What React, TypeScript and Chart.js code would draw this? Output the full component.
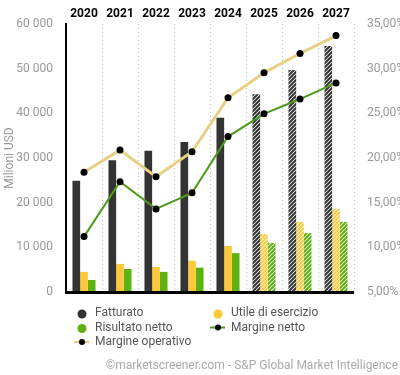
import React, { useEffect, useRef } from "react";
import { Chart, registerables } from "chart.js";

Chart.register(...registerables);

const years = ["2020", "2021", "2022", "2023", "2024", "2025", "2026", "2027"];
const estimateYears = ["2025", "2026", "2027"];
const fatturato = [24900, 29500, 31600, 33600, 39000, 44300, 49700, 55100];
const utile = [4500, 6300, 5600, 7000, 10300, 13000, 15700, 18600];
const risultato = [2700, 5150, 4500, 5450, 8700, 11000, 13200, 15700];
const margineOperativo = [18.4, 20.9, 17.9, 20.7, 26.75, 29.55, 31.7, 33.7];
const margineNetto = [11.2, 17.35, 14.3, 16.1, 22.4, 24.95, 26.6, 28.4];
const footer = "©marketscreener.com - S&P Global Market Intelligence";
const yTitle = "Milioni USD";

const C_DARK = "#333333";
const C_YEL = "#fbc93a";
const C_GRN = "#5db20f";
const C_OP = "#e9cf83";
const C_NET = "#4e9a1c";
const FONT = "Roboto";

function makePattern(color: string): CanvasPattern | string {
  const c = document.createElement("canvas");
  c.width = 4;
  c.height = 4;
  const ctx = c.getContext("2d");
  if (!ctx) return color;
  ctx.fillStyle = "#ffffff";
  ctx.fillRect(0, 0, 4, 4);
  ctx.strokeStyle = color;
  ctx.lineWidth = 2;
  ctx.beginPath();
  ctx.moveTo(0, 4);
  ctx.lineTo(4, 0);
  ctx.moveTo(-1, 1);
  ctx.lineTo(1, -1);
  ctx.moveTo(3, 5);
  ctx.lineTo(5, 3);
  ctx.stroke();
  const p = ctx.createPattern(c, "repeat");
  return p || color;
}

function fmtThousands(v: number): string {
  return Math.round(v).toString().replace(/\B(?=(\d{3})+(?!\d))/g, " ");
}

export default function App() {
  const ref = useRef<HTMLCanvasElement | null>(null);

  useEffect(() => {
    document.body.style.margin = "0";
    const canvas = ref.current;
    if (!canvas) return;

    const colorsFor = (color: string) => {
      const pat = makePattern(color);
      return years.map((y) => (estimateYears.includes(y) ? pat : color));
    };

    const extras = {
      id: "extras",
      afterDatasetsDraw(chart: any) {
        const { ctx, chartArea } = chart;
        ctx.save();
        ctx.strokeStyle = "#000";
        ctx.lineWidth = 3;
        ctx.beginPath();
        ctx.moveTo(chartArea.left - 1, chartArea.bottom + 0.5);
        ctx.lineTo(chartArea.right, chartArea.bottom + 0.5);
        ctx.stroke();
        ctx.restore();
      },
      afterDraw(chart: any) {
        const { ctx } = chart;
        const ds = chart.data.datasets;
        const items = [
          { d: ds[0], col: 0, row: 0 },
          { d: ds[1], col: 1, row: 0 },
          { d: ds[2], col: 0, row: 1 },
          { d: ds[4], col: 1, row: 1 },
          { d: ds[3], col: 0, row: 2 },
        ];
        const colX = [82, 218];
        const rowY = [313, 327.5, 342];
        ctx.save();
        ctx.font = `12px ${FONT}`;
        ctx.textBaseline = "middle";
        ctx.textAlign = "left";
        for (const it of items) {
          const x = colX[it.col];
          const y = rowY[it.row];
          if (it.d.type === "line") {
            ctx.strokeStyle = it.d.borderColor;
            ctx.lineWidth = 2;
            ctx.beginPath();
            ctx.moveTo(x - 8, y);
            ctx.lineTo(x + 7, y);
            ctx.stroke();
            ctx.fillStyle = "#000";
            ctx.beginPath();
            ctx.arc(x, y, 3, 0, Math.PI * 2);
            ctx.fill();
          } else {
            ctx.fillStyle = it.d.legendColor;
            ctx.beginPath();
            ctx.arc(x, y + 1, 4.5, 0, Math.PI * 2);
            ctx.fill();
          }
          ctx.fillStyle = "#555";
          ctx.fillText(it.d.label, x + 13, y);
        }
        ctx.fillStyle = "#aaa";
        ctx.textAlign = "right";
        ctx.fillText(footer, 398, 366);
        ctx.restore();
      },
    };

    const chart = new Chart(canvas, {
      type: "bar",
      data: {
        labels: years,
        datasets: [
          {
            type: "bar",
            label: "Fatturato",
            data: fatturato,
            backgroundColor: colorsFor(C_DARK),
            legendColor: C_DARK,
            yAxisID: "y",
            order: 2,
          } as any,
          {
            type: "bar",
            label: "Utile di esercizio",
            data: utile,
            backgroundColor: colorsFor(C_YEL),
            legendColor: C_YEL,
            yAxisID: "y",
            order: 2,
          } as any,
          {
            type: "bar",
            label: "Risultato netto",
            data: risultato,
            backgroundColor: colorsFor(C_GRN),
            legendColor: C_GRN,
            yAxisID: "y",
            order: 2,
          } as any,
          {
            type: "line",
            label: "Margine operativo",
            data: margineOperativo,
            borderColor: C_OP,
            borderWidth: 3,
            pointBackgroundColor: "#000",
            pointBorderColor: "#000",
            pointRadius: 3.5,
            pointBorderWidth: 0,
            tension: 0,
            yAxisID: "y1",
            order: 0,
          } as any,
          {
            type: "line",
            label: "Margine netto",
            data: margineNetto,
            borderColor: C_NET,
            borderWidth: 2,
            pointBackgroundColor: "#000",
            pointBorderColor: "#000",
            pointRadius: 3.5,
            pointBorderWidth: 0,
            tension: 0,
            yAxisID: "y1",
            order: 1,
          } as any,
        ],
      },
      options: {
        responsive: false,
        animation: false,
        layout: { padding: { left: 0, right: 0, top: 0, bottom: 83 } },
        plugins: {
          legend: { display: false },
          tooltip: { enabled: false },
        },
        datasets: {
          bar: { categoryPercentage: 0.64, barPercentage: 1 },
        },
        scales: {
          x: {
            position: "top",
            offset: true,
            grid: {
              display: true,
              offset: true,
              drawTicks: false,
              color: "#bbbbbb",
              lineWidth: 1,
            },
            border: { display: false, dash: [1, 3] },
            ticks: {
              color: "#000",
              font: { family: FONT, size: 12, weight: "bold" },
              padding: 3,
            },
            afterFit: (s: any) => {
              s.height = 24;
            },
          },
          y: {
            position: "left",
            min: 0,
            max: 60000,
            grid: { display: false },
            border: { display: true, color: "#000", width: 2 },
            ticks: {
              stepSize: 10000,
              color: "#999",
              font: { family: FONT, size: 12 },
              padding: 5,
              callback: (v: any) => fmtThousands(Number(v)),
            },
            title: {
              display: true,
              text: yTitle,
              color: "#999",
              font: { family: FONT, size: 12 },
              padding: 3,
            },
            afterFit: (s: any) => {
              s.width = 66;
            },
          },
          y1: {
            position: "right",
            min: 5,
            max: 35,
            grid: { display: false },
            border: { display: false },
            ticks: {
              stepSize: 5,
              color: "#999",
              font: { family: FONT, size: 12 },
              padding: 5,
              callback: (v: any) => Number(v).toFixed(2).replace(".", ",") + "%",
            },
            afterFit: (s: any) => {
              s.width = 46;
            },
          },
        },
      } as any,
      plugins: [extras],
    });

    return () => chart.destroy();
  }, []);

  return (
    <div style={{ position: "fixed", left: 0, top: 0, width: 400, height: 375, background: "#fff" }}>
      <canvas ref={ref} width={400} height={375} />
    </div>
  );
}
